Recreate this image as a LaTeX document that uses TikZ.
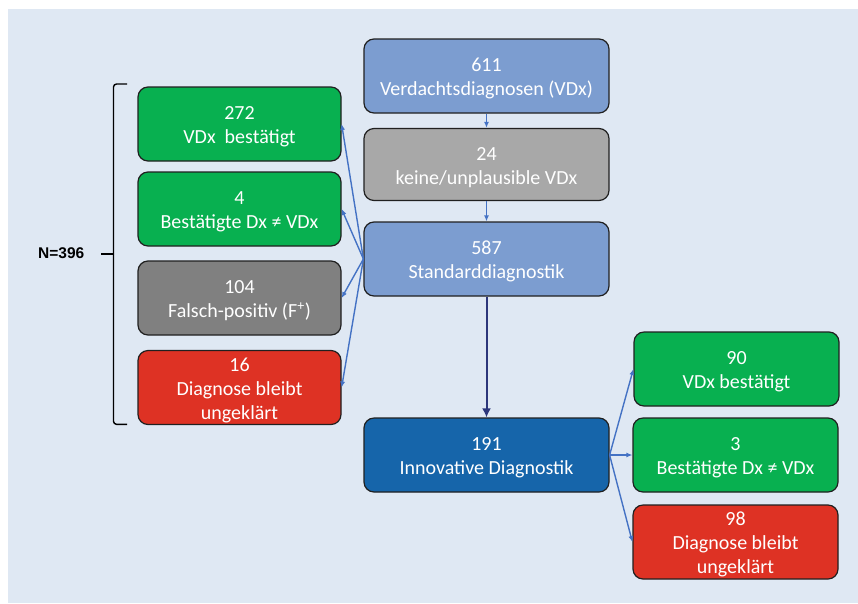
\documentclass[tikz,border=0pt]{standalone}
\usepackage{fontspec}
\setmainfont{Carlito}
\newfontfamily\labelfont{Liberation Sans}
\usetikzlibrary{arrows.meta}
\newcommand\boxtopgap{\rule{0pt}{19pt}}
\definecolor{bgblue}{RGB}{223,232,243}
\definecolor{lightblue}{RGB}{124,157,208}
\definecolor{darkblue}{RGB}{22,101,170}
\definecolor{lgray}{RGB}{168,168,168}
\definecolor{dgray}{RGB}{128,128,128}
\definecolor{boxgreen}{RGB}{8,176,80}
\definecolor{boxred}{RGB}{222,50,36}
\definecolor{boxline}{RGB}{32,32,32}
\definecolor{arrowblue}{RGB}{68,114,196}
\definecolor{navy}{RGB}{44,54,122}
\begin{document}
\begin{tikzpicture}[x=1pt,y=-1pt,
  box/.style={draw=boxline, line width=1.2pt, rounded corners=10pt, text=white,
    align=center, font=\fontsize{20}{24}\selectfont, inner sep=0pt},
  midbox/.style={box, minimum width=245pt, minimum height=74pt},
  leftbox/.style={box, minimum width=203pt, minimum height=74pt},
  rightbox/.style={box, minimum width=205pt, minimum height=74pt},
  thinarrow/.style={draw=arrowblue, line width=1.4pt, -{Latex[length=6pt,width=5pt]}},
  thickarrow/.style={draw=navy, line width=2pt, -{Latex[length=9pt,width=9pt]}},
  bracket/.style={draw=black, line width=1.4pt}]
\useasboundingbox (0,0) rectangle (858,603);
\fill[white] (0,0) rectangle (858,603);
\fill[bgblue] (8,9) rectangle (858,603);

% centre column
\node[midbox, fill=lightblue] (v611) at (486.5,76) {\boxtopgap 611\\Verdachtsdiagnosen (VDx)};
\node[midbox, fill=lgray, minimum height=72pt] (k24) at (486.5,164.5) {\boxtopgap 24\\keine/unplausible VDx};
\node[midbox, fill=lightblue] (s587) at (486.5,259) {\boxtopgap 587\\Standarddiagnostik};
\node[midbox, fill=darkblue] (i191) at (486.5,455) {\boxtopgap 191\\Innovative Diagnostik};

% left column
\node[leftbox, fill=boxgreen] (l272) at (239.5,124) {\boxtopgap 272\\VDx\ \ bestätigt};
\node[leftbox, fill=boxgreen] (l4) at (239.5,209) {\boxtopgap 4\\Bestätigte Dx ≠ VDx};
\node[leftbox, fill=dgray] (l104) at (239.5,298) {\boxtopgap 104\\Falsch-positiv (F\textsuperscript{+})};
\node[leftbox, fill=boxred] (l16) at (239.5,387.5) {\boxtopgap 16\\Diagnose bleibt\\ungeklärt};

% right column
\node[rightbox, fill=boxgreen] (r90) at (736.5,369) {\boxtopgap 90\\VDx bestätigt};
\node[rightbox, fill=boxgreen] (r3) at (735.5,455) {\boxtopgap 3\\Bestätigte Dx ≠ VDx};
\node[rightbox, fill=boxred] (r98) at (735.5,542) {\boxtopgap 98\\Diagnose bleibt\\ungeklärt};

% N label and bracket
\node[font=\labelfont\bfseries\fontsize{15.5}{18}\selectfont, anchor=center] (n396) at (61.3,252.8) {N=396};
\draw[bracket, rounded corners=3pt] (127,84) -- (113.5,84) -- (113.5,424.3) -- (127,424.3);
\draw[bracket, line width=2pt] (101,254.3) -- (113.5,254.3);

% connectors
\draw[thinarrow] (v611.south) -- (k24.north);
\draw[thinarrow] (k24.south) -- (s587.north);
\draw[thickarrow] (s587.south) -- (i191.north);
\draw[thinarrow] (s587.west) -- (l272.east);
\draw[thinarrow] (s587.west) -- (l4.east);
\draw[thinarrow] (s587.west) -- (l104.east);
\draw[thinarrow] (s587.west) -- (l16.east);
\draw[thinarrow] (i191.east) -- (r90.west);
\draw[thinarrow] (i191.east) -- (r3.west);
\draw[thinarrow] (i191.east) -- (r98.west);
\end{tikzpicture}
\end{document}
